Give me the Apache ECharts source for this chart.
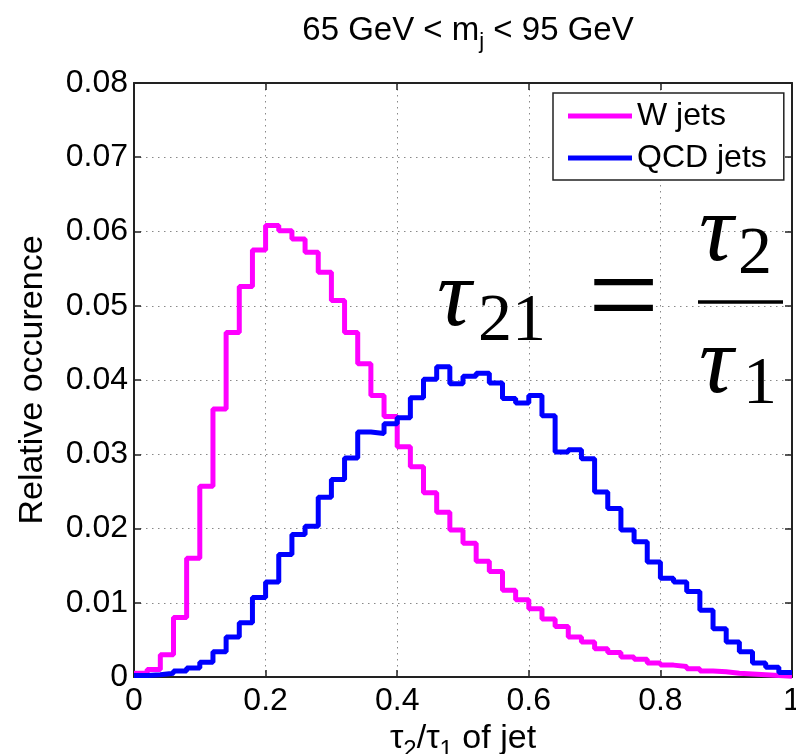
<!DOCTYPE html>
<html>
<head>
<meta charset="utf-8">
<script src="https://cdn.jsdelivr.net/npm/echarts/dist/echarts.min.js"></script>
<style>html,body{margin:0;padding:0;background:#fff;overflow:hidden;}#c{width:796px;height:754px;}</style>
</head>
<body>
<div id="c"></div>
<script>
// Bin start edges (bin width 0.02)
const binStarts = [0.00,0.02,0.04,0.06,0.08,0.10,0.12,0.14,0.16,0.18,
                   0.20,0.22,0.24,0.26,0.28,0.30,0.32,0.34,0.36,0.38,
                   0.40,0.42,0.44,0.46,0.48,0.50,0.52,0.54,0.56,0.58,
                   0.60,0.62,0.64,0.66,0.68,0.70,0.72,0.74,0.76,0.78,
                   0.80,0.82,0.84,0.86,0.88,0.90,0.92,0.94,0.96,0.98];
const wJets = [0.0005,0.0010,0.0030,0.0080,0.0160,0.0257,0.0361,0.0464,0.0526,0.0575,
               0.0608,0.0601,0.0590,0.0572,0.0545,0.0507,0.0464,0.0422,0.0379,0.0351,
               0.0310,0.0283,0.0248,0.0222,0.0198,0.0180,0.0156,0.0142,0.0117,0.0104,
               0.0092,0.0078,0.0068,0.0054,0.0047,0.0038,0.0033,0.0027,0.0024,0.0019,
               0.0016,0.0014,0.0011,0.0008,0.0007,0.0005,0.0004,0.0003,0.0002,0.0001];
const qcdJets = [0.0002,0.0003,0.0005,0.0008,0.0012,0.0020,0.0034,0.0054,0.0073,0.0107,
                 0.0128,0.0165,0.0192,0.0203,0.0242,0.0266,0.0295,0.0330,0.0328,0.0341,
                 0.0349,0.0376,0.0401,0.0418,0.0395,0.0405,0.0409,0.0396,0.0375,0.0369,
                 0.0379,0.0352,0.0303,0.0306,0.0294,0.0249,0.0227,0.0198,0.0182,0.0155,
                 0.0133,0.0128,0.0115,0.0090,0.0065,0.0047,0.0034,0.0019,0.0013,0.0006];
const xEnd = 1.0;
const seriesNames = ['W jets', 'QCD jets'];

function toSteps(vals) {
  return binStarts.map((x, i) => [x, vals[i]]).concat([[xEnd, vals[vals.length - 1]]]);
}

const SANS = 'Liberation Sans';
const AX = '#222';

const chart = echarts.init(document.getElementById('c'), null, {renderer: 'canvas'});

const option = {
  backgroundColor: '#fff',
  animation: false,
  title: {
    text: '{a|65 GeV < m}{s|j}{a| < 95 GeV}',
    left: 463, top: 4, textAlign: 'center',
    textStyle: {
      fontWeight: 'normal',
      rich: {
        a: {fontSize: 33, fontFamily: SANS, fontWeight: 'normal', color: '#000'},
        s: {fontSize: 22, fontFamily: SANS, fontWeight: 'normal', color: '#000', padding: [22, 0, 0, 0]}
      }
    }
  },
  legend: {
    data: seriesNames,
    orient: 'vertical',
    left: 553, top: 93,
    icon: 'rect',
    itemWidth: 64, itemHeight: 5,
    itemGap: 10,
    padding: [7, 17, 6, 15],
    backgroundColor: '#fff',
    borderColor: AX, borderWidth: 1.5, borderRadius: 0,
    textStyle: {fontSize: 32, fontFamily: SANS, color: '#000'}
  },
  grid: {left: 134, right: 4, top: 83, bottom: 77, containLabel: false, outerBoundsMode: 'none'},
  xAxis: [{
    type: 'value', min: 0, max: 1, interval: 0.2, position: 'bottom',
    axisLine: {show: true, onZero: false, lineStyle: {color: AX, width: 2}},
    axisTick: {show: true, inside: true, length: 7, lineStyle: {color: AX, width: 1.5}},
    axisLabel: {fontSize: 32, fontFamily: SANS, color: '#000', margin: 8},
    splitLine: {show: true, lineStyle: {color: '#888', width: 1, type: [1.5, 4.5]}},
    name: '{a|τ}{s|2}{a|/τ}{s|1}{a| of jet}',
    nameLocation: 'middle', nameGap: 26,
    nameTextStyle: {
      rich: {
        a: {fontSize: 34, fontFamily: SANS, color: '#000'},
        s: {fontSize: 24, fontFamily: SANS, color: '#000', padding: [22, 0, 0, 0]}
      }
    }
  }, {
    type: 'value', min: 0, max: 1, interval: 0.2, position: 'top',
    axisLine: {show: true, onZero: false, lineStyle: {color: AX, width: 2}},
    axisTick: {show: true, inside: true, length: 7, lineStyle: {color: AX, width: 1.5}},
    axisLabel: {show: false}, splitLine: {show: false}
  }],
  yAxis: [{
    type: 'value', min: 0, max: 0.08, interval: 0.01, position: 'left',
    axisLine: {show: true, onZero: false, lineStyle: {color: AX, width: 2}},
    axisTick: {show: true, inside: true, length: 7, lineStyle: {color: AX, width: 1.5}},
    axisLabel: {fontSize: 32, fontFamily: SANS, color: '#000', margin: 6},
    splitLine: {show: true, lineStyle: {color: '#888', width: 1, type: [1.5, 4.5]}},
    name: 'Relative occurence', nameLocation: 'middle', nameGap: 84,
    nameTextStyle: {fontSize: 34, fontFamily: SANS, color: '#000'}
  }, {
    type: 'value', min: 0, max: 0.08, interval: 0.01, position: 'right',
    axisLine: {show: true, onZero: false, lineStyle: {color: AX, width: 2}},
    axisTick: {show: true, inside: true, length: 7, lineStyle: {color: AX, width: 1.5}},
    axisLabel: {show: false}, splitLine: {show: false}
  }],
  series: [{
    name: seriesNames[0], type: 'line', step: 'end', symbol: 'none',
    xAxisIndex: 0, yAxisIndex: 0,
    lineStyle: {color: '#ff00ff', width: 5}, itemStyle: {color: '#ff00ff'},
    data: toSteps(wJets)
  }, {
    name: seriesNames[1], type: 'line', step: 'end', symbol: 'none',
    xAxisIndex: 0, yAxisIndex: 0,
    lineStyle: {color: '#0000ff', width: 5}, itemStyle: {color: '#0000ff'},
    data: toSteps(qcdJets)
  }],
  graphic: [
    {type: 'text', x: 437, y: 300, z: 100, style: {text: 'τ', font: 'italic 96px "Liberation Serif"', fill: '#000', align: 'left', verticalAlign: 'middle'}},
    {type: 'text', x: 478, y: 322, z: 100, style: {text: '21', font: '68px "Liberation Serif"', fill: '#000', align: 'left', verticalAlign: 'middle'}},
    {type: 'text', x: 588, y: 304, z: 100, style: {text: '=', font: '126px "Liberation Serif"', fill: '#000', align: 'left', verticalAlign: 'middle'}},
    {type: 'line', z: 100, shape: {x1: 698, y1: 302, x2: 783, y2: 302}, style: {stroke: '#000', lineWidth: 3.5}},
    {type: 'text', x: 699, y: 235, z: 100, style: {text: 'τ', font: 'italic 96px "Liberation Serif"', fill: '#000', align: 'left', verticalAlign: 'middle'}},
    {type: 'text', x: 738, y: 255, z: 100, style: {text: '2', font: '68px "Liberation Serif"', fill: '#000', align: 'left', verticalAlign: 'middle'}},
    {type: 'text', x: 699, y: 367, z: 100, style: {text: 'τ', font: 'italic 96px "Liberation Serif"', fill: '#000', align: 'left', verticalAlign: 'middle'}},
    {type: 'text', x: 743, y: 385, z: 100, style: {text: '1', font: '68px "Liberation Serif"', fill: '#000', align: 'left', verticalAlign: 'middle'}}
  ]
};
chart.setOption(option);
</script>
</body>
</html>
